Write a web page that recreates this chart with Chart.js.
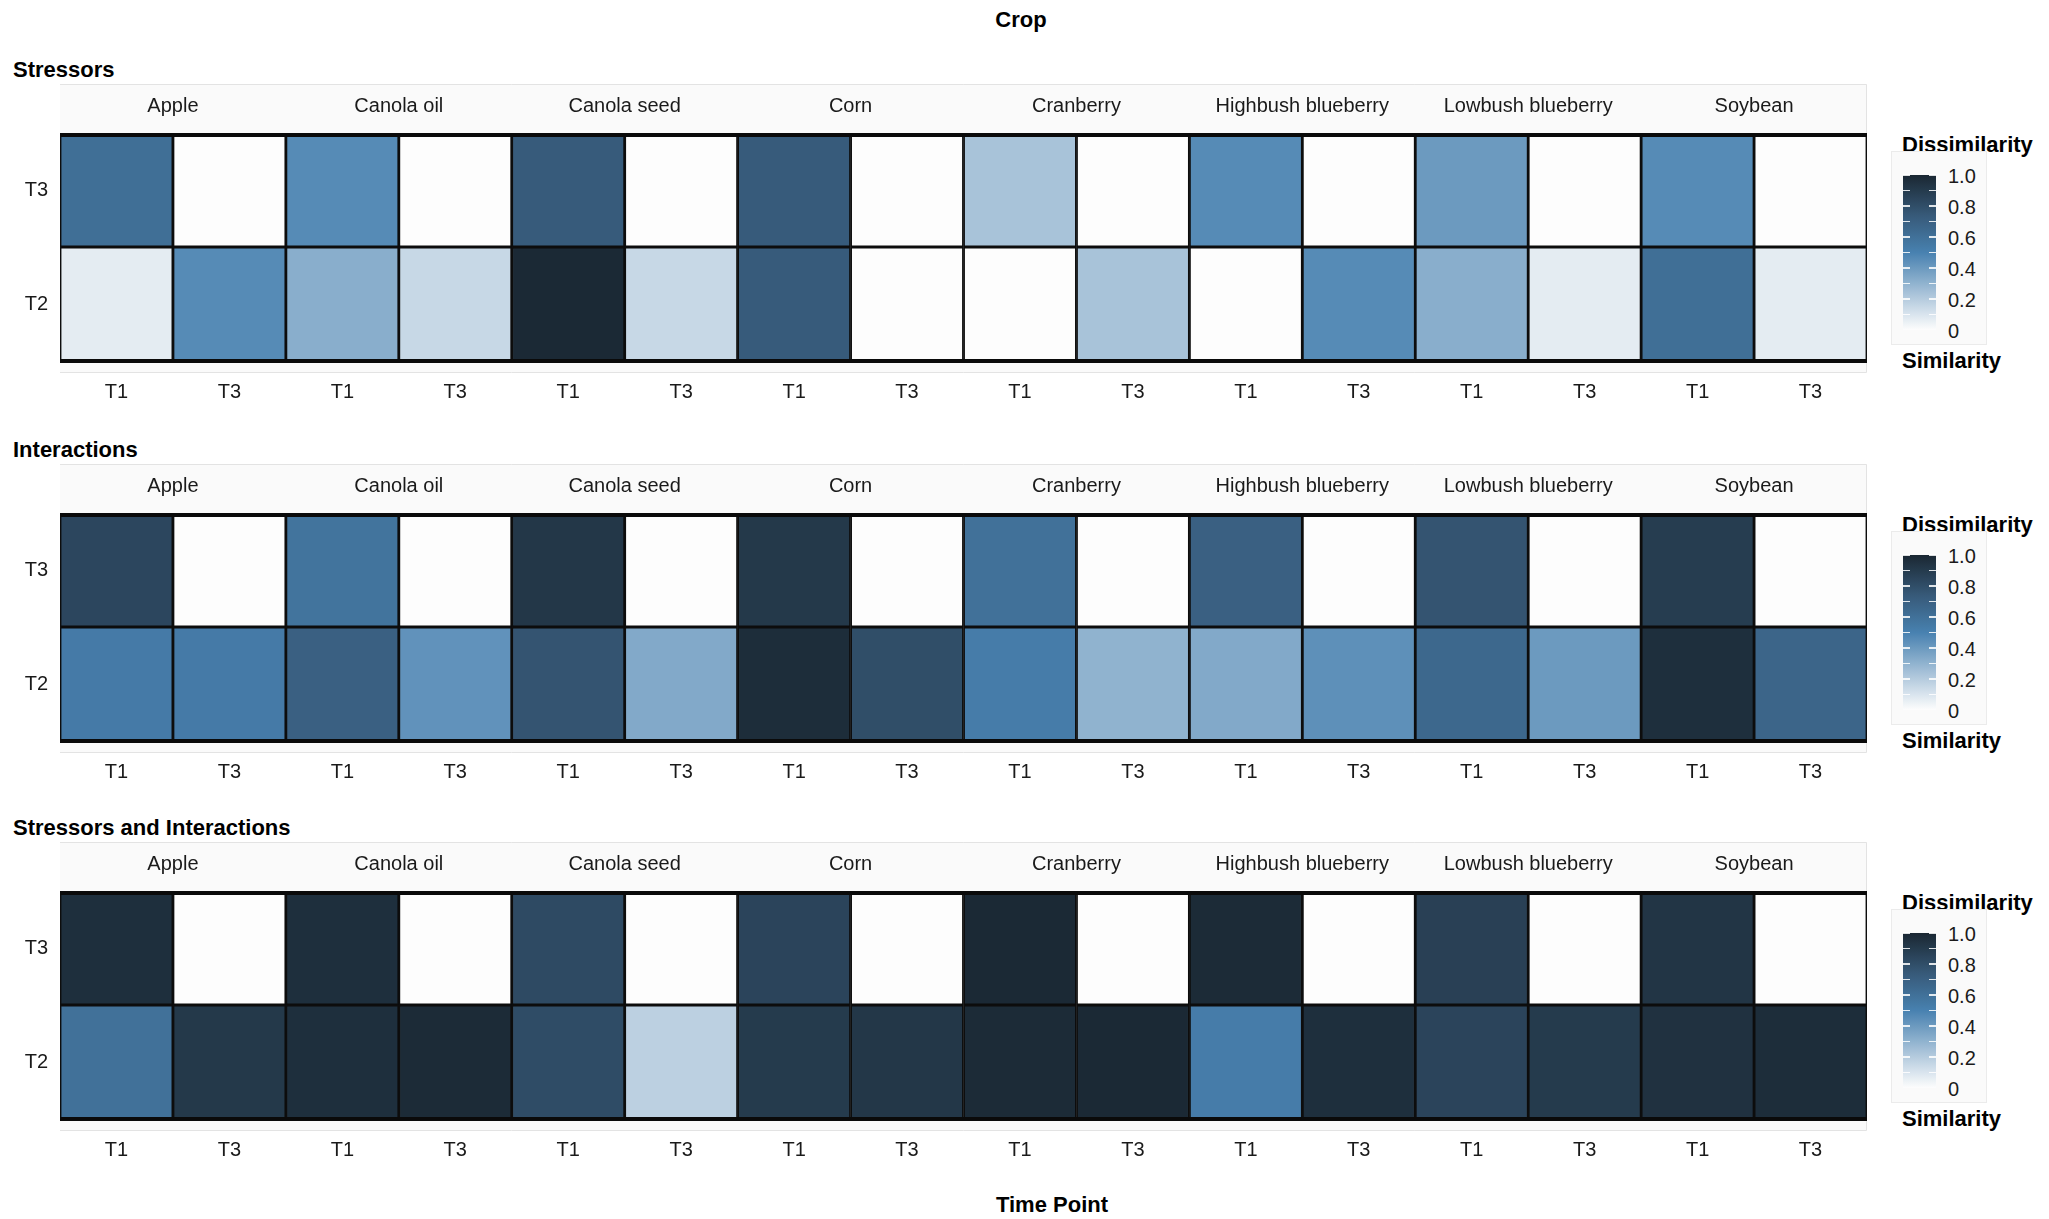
<!DOCTYPE html>
<html><head><meta charset="utf-8">
<script src="https://cdn.jsdelivr.net/npm/chart.js@4.4.1/dist/chart.umd.min.js"></script>
<style>
body{margin:0;background:#fff;font-family:"Liberation Sans",Arial,Helvetica,sans-serif;color:#1a1a1a}
#root{position:relative;width:2049px;height:1219px;overflow:hidden;background:#fff}
.t{position:absolute;white-space:nowrap;line-height:1;transform:translateY(-50%)}
.b{font-weight:bold;font-size:22px;color:#000}
.cv{position:absolute;left:0}
.lgbox{position:absolute;background:#fafafa;border:1px solid #ebebeb;box-sizing:border-box}
.bar{position:absolute}
.tk{position:absolute;height:1.5px;width:7px;background:rgba(255,255,255,0.85)}
.lab{font-size:20px;color:#1a1a1a}
</style></head>
<body><div id="root"></div>
<script>
// ---------------- data ----------------
const crops = ['Apple','Canola oil','Canola seed','Corn','Cranberry','Highbush blueberry','Lowbush blueberry','Soybean'];
const timePoints = ['T1','T3'];
const rowLabels = ['T2','T3'];
const panelTitles = ['Stressors','Interactions','Stressors and Interactions'];
const mainTitle = 'Crop';
const axisTitle = 'Time Point';
const legendTop = 'Dissimilarity';
const legendBottom = 'Similarity';
const legendTicks = [1.0, 0.8, 0.6, 0.4, 0.2, 0];
const legendTickLabels = ['1.0','0.8','0.6','0.4','0.2','0'];

// dissimilarity values, columns: Apple T1, Apple T3, Canola oil T1, Canola oil T3, ...
const stressorsT3    = [0.61,0, 0.46,0, 0.73,0, 0.73,0, 0.235,0, 0.46,0, 0.40,0, 0.46,0];
const stressorsT2    = [0.07,0.46, 0.32,0.15, 0.99,0.15, 0.73,0, 0,0.235, 0,0.46, 0.32,0.07, 0.61,0.07];
const interactionsT3 = [0.84,0, 0.58,0, 0.92,0, 0.91,0, 0.60,0, 0.70,0, 0.77,0, 0.89,0];
const interactionsT2 = [0.54,0.54, 0.70,0.43, 0.77,0.34, 0.97,0.80, 0.53,0.30, 0.34,0.44, 0.65,0.40, 0.96,0.67];
const bothT3         = [0.96,0, 0.96,0, 0.82,0, 0.85,0, 0.99,0, 0.98,0, 0.87,0, 0.93,0];
const bothT2         = [0.60,0.91, 0.96,0.98, 0.81,0.18, 0.90,0.92, 0.98,0.99, 0.53,0.96, 0.85,0.90, 0.95,0.97];

// ---------------- styling ----------------
const colorStops = [[0,[253,253,253]],[0.5,[72,129,176]],[0.75,[54,88,118]],[1,[26,39,50]]];
function colorFor(v){
  v = Math.max(0, Math.min(1, v));
  for (let i=1;i<colorStops.length;i++){
    const [p1,c1]=colorStops[i-1],[p2,c2]=colorStops[i];
    if (v<=p2){
      const t=(v-p1)/(p2-p1);
      const c=c1.map((x,k)=>Math.round(x+(c2[k]-x)*t));
      return `rgb(${c[0]},${c[1]},${c[2]})`;
    }
  }
}
const FONT = '"Liberation Sans", Arial, Helvetica, sans-serif';
const tileTops = [133, 513, 891];
const STRIP = 49, TILEH = 228, BOTTOMAX = 48;
const panels = [
  {title: panelTitles[0], t3: stressorsT3, t2: stressorsT2},
  {title: panelTitles[1], t3: interactionsT3, t2: interactionsT2},
  {title: panelTitles[2], t3: bothT3, t2: bothT2}
];
const columns = crops.flatMap(() => timePoints);

const root = document.getElementById('root');
function addText(txt, cls, left, cy, extra){
  const d=document.createElement('div');
  d.className='t '+cls; d.textContent=txt;
  d.style.left=left+'px'; d.style.top=cy+'px';
  if (extra) Object.assign(d.style, extra);
  root.appendChild(d); return d;
}

addText(mainTitle,'b',1021,20,{transform:'translate(-50%,-50%)'});
addText(axisTitle,'b',1052,1205,{transform:'translate(-50%,-50%)'});

const panelPlugin = {
  id:'panelBg',
  beforeDraw(chart){
    const {ctx, chartArea:a} = chart;
    ctx.save();
    ctx.fillStyle='#fafafa';
    ctx.fillRect(a.left, 0, a.right-a.left, a.bottom+11);
    ctx.strokeStyle='#e3e3e3'; ctx.lineWidth=1;
    ctx.beginPath();
    ctx.moveTo(a.left,0.5); ctx.lineTo(a.right-0.5,0.5); ctx.lineTo(a.right-0.5,a.bottom+11.5); ctx.lineTo(a.left,a.bottom+11.5);
    ctx.stroke();
    ctx.restore();
  },
  afterDatasetsDraw(chart){
    const {ctx, chartArea:a} = chart;
    ctx.save();
    ctx.strokeStyle='#0a0a0a'; ctx.lineWidth=4;
    ctx.beginPath();
    ctx.moveTo(a.left, a.top+2); ctx.lineTo(a.right, a.top+2);
    ctx.moveTo(a.left, a.bottom); ctx.lineTo(a.right, a.bottom);
    ctx.stroke();
    ctx.restore();
  }
};

panels.forEach((p, i) => {
  const tileTop = tileTops[i];
  const top = tileTop - STRIP;
  addText(p.title,'b',13,tileTop-63);

  const cv = document.createElement('canvas');
  cv.className='cv';
  cv.width = 1867; cv.height = STRIP + TILEH + BOTTOMAX;
  cv.style.top = top+'px';
  cv.style.width = cv.width+'px'; cv.style.height = cv.height+'px';
  root.appendChild(cv);

  new Chart(cv.getContext('2d'), {
    type:'bar',
    data:{
      labels: columns,
      datasets:[
        {label:rowLabels[0], data: p.t2.map(()=>1), backgroundColor: p.t2.map(colorFor)},
        {label:rowLabels[1], data: p.t3.map(()=>1), backgroundColor: p.t3.map(colorFor)}
      ]
    },
    options:{
      responsive:false, animation:false, devicePixelRatio:1,
      layout:{padding:0},
      datasets:{bar:{barPercentage:1, categoryPercentage:1, borderWidth:1.75, borderColor:'#0d0d0d', borderSkipped:false}},
      plugins:{legend:{display:false}, tooltip:{enabled:false}},
      scales:{
        x:{
          stacked:true, position:'bottom',
          grid:{display:false, drawTicks:false}, border:{display:false},
          ticks:{font:{family:FONT,size:20}, color:'#1a1a1a', padding:19, maxRotation:0, autoSkip:false},
          afterFit(s){ s.height = BOTTOMAX; }
        },
        strip:{
          type:'category', labels: crops, position:'top', offset:true,
          grid:{display:false, drawTicks:false}, border:{display:false},
          ticks:{font:{family:FONT,size:20}, color:'#1a1a1a', padding:15, maxRotation:0, autoSkip:false},
          afterFit(s){ s.height = STRIP; }
        },
        y:{
          stacked:true, min:0, max:2,
          grid:{display:false, drawTicks:false}, border:{display:false},
          afterBuildTicks(s){ s.ticks = [{value:0.5},{value:1.5}]; },
          ticks:{font:{family:FONT,size:20}, color:'#1a1a1a', padding:12,
                 callback:(v)=> rowLabels[Math.floor(v)]},
          afterFit(s){ s.width = 60; }
        }
      }
    },
    plugins:[panelPlugin]
  });

  // legend (colour bar)
  addText(legendTop,'b',1902,tileTop+12);
  const box=document.createElement('div'); box.className='lgbox';
  Object.assign(box.style,{left:'1891px',top:(tileTop+18)+'px',width:'96px',height:'194px'});
  root.appendChild(box);
  const barTop = tileTop+42, barH = 155;
  const bar=document.createElement('div'); bar.className='bar';
  const stops=[]; for(let k=0;k<=20;k++){ const v=k/20; stops.push(`${colorFor(v)} ${(v*100).toFixed(1)}%`); }
  Object.assign(bar.style,{left:'1903px',top:barTop+'px',width:'33px',height:barH+'px',background:`linear-gradient(to top, ${stops.join(',')})`});
  root.appendChild(bar);
  for(let k=1;k<=10;k++){
    const y = barTop + (1-k/10)*barH;
    [1903, 1929].forEach(x=>{
      const t=document.createElement('div'); t.className='tk';
      Object.assign(t.style,{left:x+'px',top:(y-0.75)+'px'});
      root.appendChild(t);
    });
  }
  legendTicks.forEach((v,k)=>{
    addText(legendTickLabels[k],'lab',1948,barTop+(1-v)*barH+1);
  });
  addText(legendBottom,'b',1902,tileTop+228);
});
</script></body></html>
